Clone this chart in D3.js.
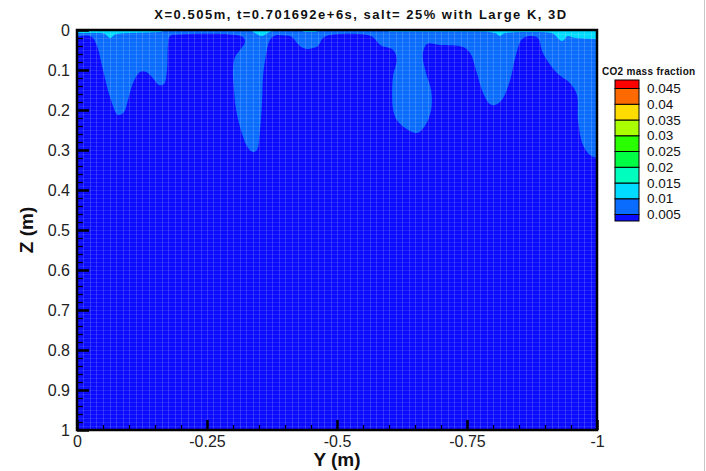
<!DOCTYPE html>
<html>
<head>
<meta charset="utf-8">
<script src="https://cdn.jsdelivr.net/npm/d3@7"></script>
<style>
  html, body { margin: 0; padding: 0; background: #fff; }
  svg { display: block; font-family: "Liberation Sans", Arial, sans-serif; }
</style>
</head>
<body>
<svg id="chart" width="706" height="471"></svg>
<script>
// ---------------- DATA ----------------
const titleText = "X=0.505m, t=0.701692e+6s, salt= 25% with Large K, 3D";
const xLabel = "Y (m)";
const yLabel = "Z (m)";
const legendTitle = "CO2 mass fraction";

// contour levels and bin colours (low -> high)
const levels = [0.005, 0.01, 0.015, 0.02, 0.025, 0.03, 0.035, 0.04, 0.045];
const binColors = ["#0b0bff", "#0a6cff", "#00dcff", "#00ffbe", "#00ff44",
                   "#2aff00", "#aaff00", "#ffdc00", "#ff6a00", "#ff0000"];

// X axis (Y coordinate, m) ticks
const xTicks = [0, -0.25, -0.5, -0.75, -1];
const xTickLabels = ["0", "-0.25", "-0.5", "-0.75", "-1"];
const xMinorTicks = [-0.05, -0.1, -0.15, -0.2, -0.3, -0.35, -0.4, -0.45, -0.55, -0.6, -0.65, -0.7, -0.8, -0.85, -0.9, -0.95];
// Z axis ticks
const zTicks = [0, 0.1, 0.2, 0.3, 0.4, 0.5, 0.6, 0.7, 0.8, 0.9, 1];
const zTickLabels = ["0", "0.1", "0.2", "0.3", "0.4", "0.5", "0.6", "0.7", "0.8", "0.9", "1"];
const zMinorTicks = [0.02, 0.04, 0.06, 0.08, 0.12, 0.14, 0.16, 0.18, 0.22, 0.24, 0.26, 0.28, 0.32, 0.34, 0.36, 0.38,
                     0.42, 0.44, 0.46, 0.48, 0.52, 0.54, 0.56, 0.58, 0.62, 0.64, 0.66, 0.68, 0.72, 0.74, 0.76, 0.78,
                     0.82, 0.84, 0.86, 0.88, 0.92, 0.94, 0.96, 0.98];

// 0.005 iso-line (lower edge of the 0.005-0.01 plume region): Y, Z points
const plumeY = [0, -0.0154, -0.0288, -0.0385, -0.05, -0.0635, -0.0788, -0.0904, -0.0981, -0.1077, -0.1212, -0.1327, -0.1442, -0.1577, -0.1673, -0.1731, -0.175, -0.1788, -0.198, -0.294, -0.319, -0.323, -0.3135, -0.304, -0.300, -0.302, -0.306, -0.317, -0.329, -0.3385, -0.346, -0.352, -0.356, -0.358, -0.3635, -0.371, -0.381, -0.4, -0.4135, -0.423, -0.433, -0.442, -0.454, -0.4635, -0.473, -0.4865, -0.554, -0.569, -0.583, -0.608, -0.615, -0.608, -0.606, -0.608, -0.615, -0.631, -0.654, -0.669, -0.681, -0.681, -0.671, -0.665, -0.673, -0.698, -0.742, -0.756, -0.769, -0.781, -0.794, -0.804, -0.817, -0.833, -0.844, -0.856, -0.871, -0.8865, -0.896, -0.923, -0.948, -0.9615, -0.9635, -0.973, -0.9865, -1];
const plumeZ = [0.0175, 0.0138, 0.0175, 0.04, 0.1, 0.1675, 0.2125, 0.205, 0.175, 0.1325, 0.105, 0.105, 0.1175, 0.1375, 0.135, 0.1, 0.0375, 0.015, 0.011, 0.011, 0.0175, 0.03, 0.05, 0.0675, 0.1, 0.15, 0.2, 0.2575, 0.295, 0.305, 0.3, 0.25, 0.175, 0.1125, 0.0625, 0.025, 0.014, 0.014, 0.0175, 0.0325, 0.044, 0.0475, 0.045, 0.04, 0.02, 0.0125, 0.011, 0.0175, 0.0375, 0.05, 0.075, 0.1125, 0.1625, 0.2, 0.225, 0.245, 0.2575, 0.24, 0.2, 0.15, 0.1075, 0.0625, 0.035, 0.0375, 0.0425, 0.0575, 0.1075, 0.1575, 0.185, 0.1875, 0.175, 0.125, 0.0625, 0.0225, 0.015, 0.02, 0.0575, 0.1075, 0.1325, 0.1625, 0.225, 0.2875, 0.3125, 0.32];

// 0.01 iso-line (depth of the thin 0.01-0.015 layer at the top): Y, Z points
const topY = [0, -0.044, -0.054, -0.0635, -0.075, -0.102, -0.14, -0.16, -0.171, -0.333, -0.342, -0.356, -0.367, -0.381, -0.429, -0.438, -0.458, -0.467, -0.592, -0.602, -0.775, -0.804, -0.813, -0.823, -0.852, -0.89, -0.913, -0.933, -0.944, -0.958, -1];
const topZ = [0.0075, 0.0075, 0.01, 0.02, 0.01, 0.0075, 0.006, 0.005, 0, 0, 0.0075, 0.015, 0.0075, 0, 0, 0.005, 0.005, 0, 0, 0.004, 0.004, 0.0075, 0.015, 0.0075, 0.005, 0.005, 0.0075, 0.0275, 0.015, 0.02, 0.0225];

// ---------------- DRAW ----------------
const svg = d3.select("#chart");
const L = 77, R = 597, T = 30, B = 430;
const x = d3.scaleLinear().domain([0, -1]).range([L, R]);
const y = d3.scaleLinear().domain([0, 1]).range([T, B]);

svg.append("defs").append("clipPath").attr("id", "clip")
  .append("rect").attr("x", L).attr("y", T).attr("width", R - L).attr("height", B - T);

const plot = svg.append("g").attr("clip-path", "url(#clip)");

// background: lowest bin
plot.append("rect").attr("x", L).attr("y", T).attr("width", R - L).attr("height", B - T)
  .attr("fill", binColors[0]);

const line = d3.line().curve(d3.curveCatmullRom.alpha(0.5));

// 0.005 - 0.01 region
const plumePts = plumeY.map((v, i) => [x(v), y(plumeZ[i])]);
plot.append("path")
  .attr("d", line(plumePts) + `L${x(-1)},${y(0) - 2}L${x(0)},${y(0) - 2}Z`)
  .attr("fill", binColors[1]);

// 0.01 - 0.015 region
const topPts = topY.map((v, i) => [x(v), y(topZ[i])]);
plot.append("path")
  .attr("d", d3.line().curve(d3.curveMonotoneX)(topPts) + `L${x(-1)},${y(0) - 2}L${x(0)},${y(0) - 2}Z`)
  .attr("fill", binColors[2]);

// mesh texture
const meshX = d3.range(0, 81).map(i => -i * 0.0125);
const meshZ = d3.range(0, 101).map(i => i * 0.01);
plot.append("g").selectAll("line").data(meshX).join("line")
  .attr("x1", d => Math.round(x(d)) + 0.5).attr("x2", d => Math.round(x(d)) + 0.5)
  .attr("y1", T).attr("y2", B)
  .attr("stroke", "#ffffff").attr("stroke-opacity", 0.16).attr("stroke-width", 1);
plot.append("g").selectAll("line").data(meshZ).join("line")
  .attr("y1", d => Math.round(y(d)) + 0.5).attr("y2", d => Math.round(y(d)) + 0.5)
  .attr("x1", L).attr("x2", R)
  .attr("stroke", "#ffffff").attr("stroke-opacity", 0.1).attr("stroke-width", 1);

// frame
svg.append("rect").attr("x", L).attr("y", T).attr("width", R - L).attr("height", B - T)
  .attr("fill", "none").attr("stroke", "#000").attr("stroke-width", 2.5);

// axes
const fontTick = "16px";
const yAxis = svg.append("g").attr("transform", `translate(${L},0)`)
  .call(d3.axisLeft(y).tickValues(zTicks).tickFormat((d, i) => zTickLabels[i]).tickSize(-12).tickPadding(7));
yAxis.select(".domain").remove();
yAxis.selectAll(".tick line").attr("stroke", "#000").attr("stroke-width", 2.5);
yAxis.selectAll("text").attr("font-size", fontTick).attr("fill", "#222").attr("font-family", "Liberation Sans, Arial, sans-serif");

const yMinor = svg.append("g").attr("transform", `translate(${L},0)`)
  .call(d3.axisLeft(y).tickValues(zMinorTicks).tickFormat("").tickSize(-6));
yMinor.select(".domain").remove();
yMinor.selectAll(".tick line").attr("stroke", "#000").attr("stroke-width", 1.2);

const xAxis = svg.append("g").attr("transform", `translate(0,${B})`)
  .call(d3.axisBottom(x).tickValues(xTicks).tickFormat((d, i) => xTickLabels[i]).tickSize(-10).tickPadding(6));
xAxis.select(".domain").remove();
xAxis.selectAll(".tick line").attr("stroke", "#000").attr("stroke-width", 2.5);
xAxis.selectAll("text").attr("font-size", fontTick).attr("fill", "#222").attr("font-family", "Liberation Sans, Arial, sans-serif");

const xMinor = svg.append("g").attr("transform", `translate(0,${B})`)
  .call(d3.axisBottom(x).tickValues(xMinorTicks).tickFormat("").tickSize(-5));
xMinor.select(".domain").remove();
xMinor.selectAll(".tick line").attr("stroke", "#000").attr("stroke-width", 1.2);

// axis titles
svg.append("text").attr("x", (L + R) / 2).attr("y", 466).attr("text-anchor", "middle")
  .attr("font-size", "19px").attr("font-weight", "bold").attr("fill", "#111").text(xLabel);
svg.append("text").attr("transform", `translate(33,230) rotate(-90)`).attr("text-anchor", "middle")
  .attr("font-size", "19px").attr("font-weight", "bold").attr("fill", "#111").text(yLabel);

// title
svg.append("text").attr("x", (L + R) / 2 + 24).attr("y", 19).attr("text-anchor", "middle")
  .attr("font-size", "13px").attr("font-weight", "bold").attr("letter-spacing", "1.5px")
  .attr("fill", "#111").text(titleText);

// legend
const lgX = 615, lgW = 24, lgTop = 80, lgBot = 221;
const ly = d3.scaleLinear().domain([levels[0], levels[levels.length - 1]]).range([214.5, 88.5]);
const edges = [lgBot, ...levels.map(v => ly(v)), lgTop];
const lg = svg.append("g");
binColors.forEach((c, i) => {
  lg.append("rect").attr("x", lgX).attr("y", edges[i + 1]).attr("width", lgW)
    .attr("height", edges[i] - edges[i + 1]).attr("fill", c)
    .attr("stroke", "#000").attr("stroke-width", 1);
});
lg.selectAll("text.lv").data(levels).join("text").attr("class", "lv")
  .attr("x", 647).attr("y", d => ly(d)).attr("dy", "0.35em")
  .attr("font-size", "13.5px").attr("fill", "#111").text(d => String(d));
lg.append("text").attr("x", 602).attr("y", 74.5).attr("font-size", "10px")
  .attr("font-weight", "bold").attr("letter-spacing", "0.3px").attr("fill", "#111").text(legendTitle);

// right edge line
svg.append("line").attr("x1", 704.5).attr("x2", 704.5).attr("y1", 0).attr("y2", 471)
  .attr("stroke", "#c8c8c8").attr("stroke-width", 1);
</script>
</body>
</html>
